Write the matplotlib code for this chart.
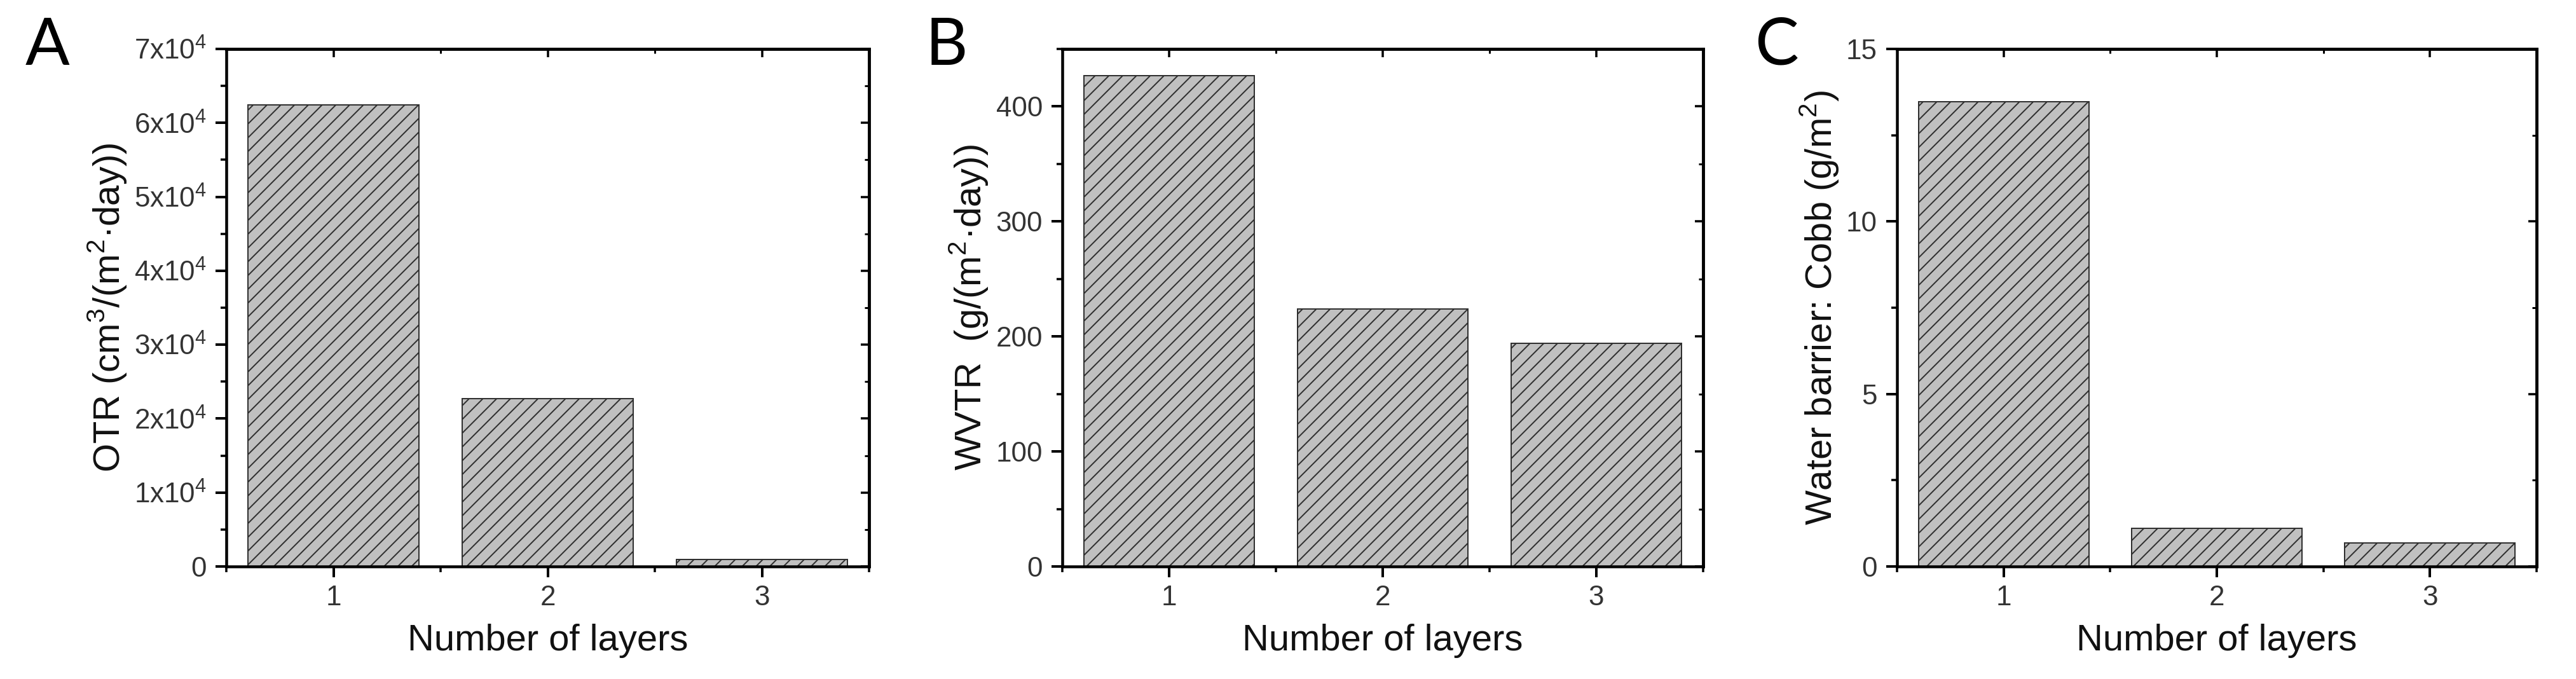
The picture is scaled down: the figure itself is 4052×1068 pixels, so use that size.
import matplotlib
matplotlib.use("Agg")
import matplotlib.pyplot as plt
from matplotlib.ticker import MultipleLocator

# data
layers = [1, 2, 3]

otr_values = [62400, 22700, 950]
wvtr_values = [427, 224, 194]
cobb_values = [13.47, 1.10, 0.69]

otr_ticks = [0, 10000, 20000, 30000, 40000, 50000, 60000, 70000]
otr_tick_labels = ['0'] + ['%dx10$^{\\mathregular{4}}$' % i for i in range(1, 8)]
wvtr_ticks = [0, 100, 200, 300, 400]
cobb_ticks = [0, 5, 10, 15]

DPI = 130
PT = 72 / DPI  # pixel -> point

plt.rcParams['font.family'] = ['Liberation Sans', 'DejaVu Sans']
plt.rcParams['mathtext.fontset'] = 'custom'
plt.rcParams['mathtext.rm'] = 'Liberation Sans'
plt.rcParams['hatch.linewidth'] = 2.0 * PT

fig = plt.figure(figsize=(4052 / DPI, 1068 / DPI), dpi=DPI)

W, H = 4052, 1068
AX_TOP, AX_BOTTOM = 77, 891


def draw_panel(left_px, width_px, values, ylim, yticks, yminor, ylabel, yticklabels=None):
    rect = [left_px / W, 1 - AX_BOTTOM / H, width_px / W, (AX_BOTTOM - AX_TOP) / H]
    ax = fig.add_axes(rect)
    ax.bar(layers, values, width=0.8, color='#c0c0c0', edgecolor='#303030',
           linewidth=2.0 * PT, hatch='//', zorder=2)
    ax.set_xlim(0.5, 3.5)
    ax.set_ylim(*ylim)

    ax.set_xticks(layers)
    ax.xaxis.set_minor_locator(MultipleLocator(0.5))
    ax.set_yticks(yticks)
    if yticklabels is not None:
        ax.set_yticklabels(yticklabels)
    ax.yaxis.set_minor_locator(MultipleLocator(yminor))

    for sp in ax.spines.values():
        sp.set_linewidth(4.5 * PT)
    ax.tick_params(which='major', direction='out', length=17 * PT, width=4 * PT,
                   labelsize=44 * PT, labelcolor='#333333')
    ax.tick_params(which='minor', direction='out', length=9 * PT, width=3.5 * PT)
    ax.tick_params(axis='x', which='major', pad=12 * PT)
    ax.tick_params(axis='y', which='major', pad=14 * PT)

    # mirrored inward ticks on top and right
    top = ax.secondary_xaxis('top')
    top.set_xticks(layers)
    top.xaxis.set_minor_locator(MultipleLocator(0.5))
    top.tick_params(which='major', direction='in', length=13 * PT, width=3.5 * PT, labeltop=False)
    top.tick_params(which='minor', direction='in', length=7 * PT, width=3 * PT)
    top.spines['top'].set_linewidth(4.5 * PT)

    right = ax.secondary_yaxis('right')
    right.set_yticks(yticks)
    right.yaxis.set_minor_locator(MultipleLocator(yminor))
    right.tick_params(which='major', direction='in', length=13 * PT, width=3.5 * PT, labelright=False)
    right.tick_params(which='minor', direction='in', length=7 * PT, width=3 * PT)
    right.spines['right'].set_linewidth(4.5 * PT)

    ax.set_xlabel('Number of layers', fontsize=58 * PT, labelpad=20 * PT, color='#111111')
    ax.set_ylabel(ylabel, fontsize=58 * PT, labelpad=8 * PT, color='#111111')
    return ax


draw_panel(356, 1011, otr_values, (0, 70000), otr_ticks, 5000,
           'OTR (cm$^{\\mathregular{3}}$/(m$^{\\mathregular{2}}$·day))', otr_tick_labels)
draw_panel(1671, 1008, wvtr_values, (0, 450), wvtr_ticks, 50,
           'WVTR  (g/(m$^{\\mathregular{2}}$·day))')
draw_panel(2984, 1006, cobb_values, (0, 15), cobb_ticks, 2.5,
           'Water barrier: Cobb (g/m$^{\\mathregular{2}}$)')

# panel letters
for letter, x_px in [('A', 40), ('B', 1456), ('C', 2760)]:
    fig.text(x_px / W, 1 - 102 / H, letter, fontsize=103 * PT, family='Lato',
             ha='left', va='baseline', color='black')

fig.savefig('out.png', dpi=DPI)
